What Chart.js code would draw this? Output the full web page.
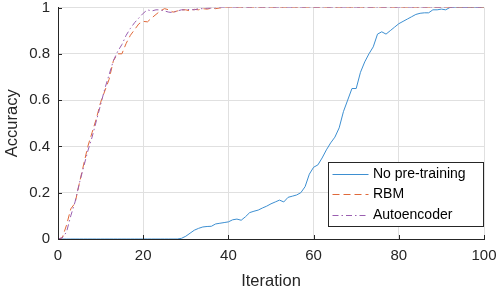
<!DOCTYPE html>
<html>
<head>
<meta charset="utf-8">
<script src="https://cdn.jsdelivr.net/npm/chart.js@4"></script>
<style>
  html, body { margin: 0; padding: 0; background: #fff; }
  #wrap { width: 498px; height: 297px; }
</style>
</head>
<body>
<div id="wrap"><canvas id="accChart" width="498" height="297"></canvas></div>
<script>
const FONT = "'Liberation Sans', Arial, Helvetica, sans-serif";
const INK = "#262626";

const iterations = Array.from({ length: 101 }, (_, i) => i);

const noPretraining = [
  0, 0, 0, 0, 0, 0, 0, 0, 0, 0,
  0, 0, 0, 0, 0, 0, 0, 0, 0, 0,
  0, 0, 0, 0, 0, 0, 0, 0, 0, 0.003,
  0.012, 0.025, 0.038, 0.046, 0.052, 0.054, 0.055, 0.065, 0.068, 0.071,
  0.074, 0.083, 0.086, 0.081, 0.096, 0.114, 0.12, 0.125, 0.134, 0.142,
  0.152, 0.16, 0.168, 0.16, 0.18, 0.185, 0.19, 0.2, 0.226, 0.28,
  0.31, 0.32, 0.35, 0.385, 0.415, 0.44, 0.48, 0.55, 0.6, 0.65,
  0.65, 0.72, 0.765, 0.8, 0.83, 0.885, 0.895, 0.885, 0.9, 0.915,
  0.93, 0.94, 0.95, 0.96, 0.97, 0.975, 0.977, 0.977, 0.99, 0.99,
  0.993, 0.99, 1, 1, 1, 1, 1, 1, 1, 1,
  1
];

const rbm = [
  0, 0.005, 0.06, 0.13, 0.155, 0.24, 0.32, 0.4, 0.46, 0.52,
  0.59, 0.64, 0.69, 0.77, 0.8, 0.8, 0.845, 0.88, 0.905, 0.93,
  0.94, 0.938, 0.955, 0.97, 0.985, 0.995, 0.99, 0.98, 0.985, 0.99,
  0.99, 0.985, 0.992, 0.99, 0.995, 0.993, 0.997, 0.995, 0.998, 1,
  1, 1, 1, 1, 1, 1, 1, 1, 1, 1,
  1, 1, 1, 1, 1, 1, 1, 1, 1, 1,
  1, 1, 1, 1, 1, 1, 1, 1, 1, 1,
  1, 1, 1, 1, 1, 1, 1, 1, 1, 1,
  1, 1, 1, 1, 1, 1, 1, 1, 1, 1,
  1, 1, 1, 1, 1, 1, 1, 1, 1, 1,
  1
];

const autoencoder = [
  0, 0.005, 0.03, 0.1, 0.16, 0.24, 0.31, 0.38, 0.44, 0.51,
  0.58, 0.65, 0.71, 0.77, 0.81, 0.84, 0.88, 0.91, 0.935, 0.955,
  0.975, 0.99, 0.985, 0.99, 0.99, 0.985, 0.98, 0.978, 0.985, 0.99,
  0.99, 0.992, 0.99, 0.995, 0.995, 0.997, 0.998, 0.998, 1, 1,
  1, 1, 1, 1, 1, 1, 1, 1, 1, 1,
  1, 1, 1, 1, 1, 1, 1, 1, 1, 1,
  1, 1, 1, 1, 1, 1, 1, 1, 1, 1,
  1, 1, 1, 1, 1, 1, 1, 1, 1, 1,
  1, 1, 1, 1, 1, 1, 1, 1, 1, 1,
  1, 1, 1, 1, 1, 1, 1, 1, 1, 1,
  1
];

const xTicks = [0, 20, 40, 60, 80, 100];
const yTicks = [0, 0.2, 0.4, 0.6, 0.8, 1];

// short inward tick marks on the left and bottom axes
const innerTicks = {
  id: "innerTicks",
  afterDatasetsDraw(chart) {
    const ctx = chart.ctx;
    const a = chart.chartArea;
    const xs = chart.scales.x, ys = chart.scales.y;
    ctx.save();
    ctx.strokeStyle = INK;
    ctx.lineWidth = 1;
    ctx.beginPath();
    xTicks.forEach(v => {
      const px = Math.round(xs.getPixelForValue(v)) + 0.5;
      ctx.moveTo(px, a.bottom);
      ctx.lineTo(px, a.bottom - 4);
    });
    yTicks.forEach(v => {
      const py = Math.round(ys.getPixelForValue(v)) + 0.5;
      ctx.moveTo(a.left, py);
      ctx.lineTo(a.left + 4, py);
    });
    ctx.stroke();
    ctx.restore();
  }
};

// legend box in the lower right of the plot, like matlab's "southeast"
const legendBox = {
  id: "legendBox",
  afterDraw(chart) {
    const ctx = chart.ctx;
    const a = chart.chartArea;
    const w = 155, h = 64;
    const x0 = Math.round(a.right - w - 1) + 0.5;
    const y0 = Math.round(a.bottom - 77) + 0.5;
    ctx.save();
    ctx.fillStyle = "#fff";
    ctx.fillRect(x0, y0, w, h);
    ctx.strokeStyle = INK;
    ctx.lineWidth = 1;
    ctx.strokeRect(x0, y0, w, h);
    ctx.font = "14px " + FONT;
    ctx.textBaseline = "middle";
    chart.data.datasets.forEach((ds, i) => {
      const cy = Math.round(y0 + 11 + i * 20.8) + 0.5;
      ctx.strokeStyle = ds.borderColor;
      ctx.lineWidth = 1;
      ctx.setLineDash(ds.borderDash || []);
      ctx.beginPath();
      ctx.moveTo(x0 + 4, cy);
      ctx.lineTo(x0 + 40, cy);
      ctx.stroke();
      ctx.setLineDash([]);
      ctx.fillStyle = "#000";
      ctx.fillText(ds.label, x0 + 44.5, cy);
    });
    ctx.restore();
  }
};

const accChart = new Chart(document.getElementById("accChart").getContext("2d"), {
  type: "line",
  data: {
    labels: iterations,
    datasets: [
      {
        label: "No pre-training",
        data: noPretraining,
        borderColor: "#3d8fd1",
        borderWidth: 1,
        order: 2
      },
      {
        label: "RBM",
        data: rbm,
        borderColor: "#e0693a",
        borderWidth: 1,
        borderDash: [7, 4],
        order: 1
      },
      {
        label: "Autoencoder",
        data: autoencoder,
        borderColor: "#9a5fb0",
        borderWidth: 1,
        borderDash: [6, 3, 1.5, 3],
        order: 0
      }
    ]
  },
  options: {
    responsive: false,
    animation: false,
    devicePixelRatio: 1,
    layout: { padding: { top: 7.5, right: 14, bottom: 0, left: 0 } },
    elements: { point: { radius: 0 }, line: { tension: 0 } },
    plugins: {
      legend: { display: false },
      tooltip: { enabled: false }
    },
    scales: {
      x: {
        type: "linear",
        min: 0,
        max: 100,
        afterBuildTicks: s => { s.ticks = xTicks.map(v => ({ value: v })); },
        afterFit: s => {
          s.height = 58;
          s.paddingLeft = 0;
          s.paddingRight = 0;
        },
        ticks: {
          color: INK,
          font: { family: FONT, size: 15 },
          padding: 8,
          maxRotation: 0,
          autoSkip: false
        },
        grid: { color: "#e0e0e0", drawTicks: false },
        border: { color: INK },
        title: {
          display: true,
          text: "Iteration",
          color: INK,
          font: { family: FONT, size: 16.5 },
          padding: { top: 0, bottom: 6 }
        }
      },
      y: {
        min: 0,
        max: 1,
        afterBuildTicks: s => { s.ticks = yTicks.map(v => ({ value: v })); },
        afterFit: s => {
          s.width = 58;
          s.paddingTop = 0;
          s.paddingBottom = 0;
        },
        ticks: {
          color: INK,
          font: { family: FONT, size: 15, lineHeight: 1 },
          padding: 8,
          callback: v => String(v)
        },
        grid: { color: "#e0e0e0", drawTicks: false },
        border: { color: INK },
        title: {
          display: true,
          text: "Accuracy",
          color: INK,
          font: { family: FONT, size: 16.5 },
          padding: { top: 3, bottom: 0 }
        }
      }
    }
  },
  plugins: [innerTicks, legendBox]
});
</script>
</body>
</html>
